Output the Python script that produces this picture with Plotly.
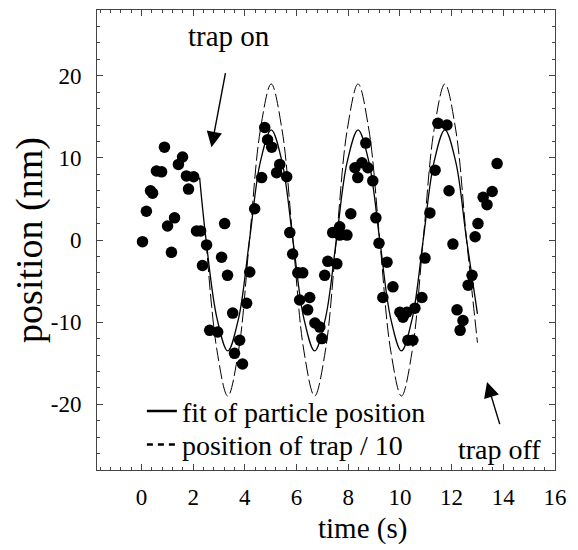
import plotly.graph_objects as go

# ---- data ----
time_s = [0.04, 0.19, 0.35, 0.43, 0.58, 0.78, 0.89, 1.01, 1.16, 1.28, 1.43, 1.59, 1.74, 1.82,
          2.02, 2.13, 2.29, 2.36, 2.52, 2.64, 2.95, 3.10, 3.22, 3.33, 3.53, 3.60, 3.80, 3.91,
          4.07, 4.19, 4.38, 4.65, 4.77, 4.88, 5.04, 5.23, 5.35, 5.62, 5.74, 5.85, 6.05, 6.24,
          6.12, 6.51, 6.43, 6.71, 6.90, 6.98, 7.09, 7.21, 7.56, 7.40, 7.67, 7.95, 7.67, 8.10,
          8.26, 8.37, 8.53, 8.68, 8.76, 8.95, 9.07, 9.19, 9.50, 9.34, 9.73, 10.00, 10.12, 10.27,
          10.31, 10.50, 10.58, 10.85, 10.97, 11.16, 11.36, 11.47, 11.82, 11.90, 12.05, 12.21,
          12.33, 12.44, 12.64, 12.79, 12.91, 13.02, 13.22, 13.37, 13.57, 13.76]
position_nm = [-0.2, 3.5, 6.0, 5.7, 8.4, 8.3, 11.3, 1.7, -1.5, 2.7, 9.2, 10.1, 7.8, 6.2,
               7.7, 1.1, 1.1, -3.1, -0.6, -11.0, -11.2, -2.1, 2.0, -4.3, -8.9, -13.8, -12.2, -15.1,
               -7.7, -3.9, 3.8, 7.6, 13.7, 12.2, 11.3, 8.2, 9.2, 7.7, 0.9, -1.7, -4.0, -4.0,
               -7.3, -7.0, -8.5, -10.1, -10.6, -12.0, -4.3, -2.6, -2.9, 0.9, 1.6, 0.6, 0.6, 3.2,
               8.8, 7.6, 9.4, 11.8, 8.8, 7.2, 2.7, -0.4, -2.7, -7.0, -5.7, -8.8, -9.4, -8.8,
               -12.2, -12.2, -8.3, -7.0, -2.2, 3.3, 8.5, 14.2, 14.0, 6.0, -0.5, -8.5,
               -11.0, -9.8, -5.5, -4.3, 0.4, 2.0, 5.2, 4.3, 5.9, 9.3]

fit_t = [2.25, 2.50, 2.92, 3.34, 3.76, 4.18, 4.60, 5.02, 5.44, 5.86, 6.28, 6.70, 7.12, 7.54,
         7.96, 8.38, 8.80, 9.22, 9.64, 10.06, 10.48, 10.90, 11.32, 11.74, 12.16, 12.58, 13.00]
fit_y = [7.6, 0.0, -9.5, -13.5, -9.5, 0.0, 9.5, 13.4, 9.5, 0.0, -9.5, -13.5, -9.5, 0.0,
         9.5, 13.4, 9.5, 0.0, -9.5, -13.5, -9.5, 0.0, 9.5, 13.4, 9.5, 0.0, -9.0]

trap_t = [2.50, 2.92, 3.34, 3.76, 4.18, 4.60, 5.02, 5.44, 5.86, 6.28, 6.70, 7.12, 7.54,
          7.96, 8.38, 8.80, 9.22, 9.64, 10.06, 10.48, 10.90, 11.32, 11.74, 12.16, 12.58, 13.00]
trap_y = [0.0, -13.4, -19.0, -13.4, 0.0, 13.4, 19.0, 13.4, 0.0, -13.4, -19.0, -13.4, 0.0,
          13.4, 19.0, 13.4, 0.0, -13.4, -19.0, -13.4, 0.0, 13.4, 19.0, 13.4, 0.0, -12.5]

x_ticks = [0, 2, 4, 6, 8, 10, 12, 14, 16]
y_ticks = [-20, -10, 0, 10, 20]

FONT = "Liberation Serif, Times New Roman, serif"

fig = go.Figure()

fig.add_trace(go.Scatter(x=trap_t, y=trap_y, mode="lines", showlegend=False,
                         line=dict(color="black", width=1, dash="14px,4px", shape="spline"),
                         hoverinfo="skip"))
fig.add_trace(go.Scatter(x=fit_t, y=fit_y, mode="lines", showlegend=False,
                         line=dict(color="black", width=1.3, shape="spline"),
                         hoverinfo="skip"))
fig.add_trace(go.Scatter(x=time_s, y=position_nm, mode="markers", showlegend=False,
                         marker=dict(color="black", size=11.5)))

# legend entries
fig.add_trace(go.Scatter(x=[None], y=[None], mode="lines", name="fit of particle position",
                         legend="legend", line=dict(color="black", width=2.5)))
fig.add_trace(go.Scatter(x=[None], y=[None], mode="lines", name="position of trap / 10",
                         legend="legend2", line=dict(color="black", width=2.5, dash="6px,5px")))

fig.add_annotation(x=3.4, y=24.8, text="trap on", showarrow=False,
                   font=dict(family=FONT, size=29, color="black"))
fig.add_annotation(x=2.71, y=11.3, ax=3.26, ay=20.5, axref="x", ayref="y", text="",
                   showarrow=True, arrowhead=2, arrowsize=2.2, arrowwidth=1.4, arrowcolor="black")
fig.add_annotation(x=13.85, y=-25.5, text="trap off", showarrow=False,
                   font=dict(family=FONT, size=28, color="black"))
fig.add_annotation(x=13.37, y=-17.3, ax=13.88, ay=-22.6, axref="x", ayref="y", text="",
                   showarrow=True, arrowhead=2, arrowsize=2.2, arrowwidth=1.4, arrowcolor="black")

# x-axis title (placed right of centre, as in the reference)
fig.add_annotation(xref="paper", yref="paper", x=0.579, y=-0.128, text="time (s)",
                   showarrow=False, xanchor="center", yanchor="middle",
                   font=dict(family=FONT, size=29, color="black"))

axis_common = dict(showgrid=False, zeroline=False, showline=True, linecolor="#444", linewidth=1,
                   mirror="ticks", ticks="inside", ticklen=6, tickcolor="#444",
                   tickfont=dict(family=FONT, size=23, color="black"))

fig.update_xaxes(range=[-1.72, 16], tickvals=x_ticks, ticktext=[str(v) for v in x_ticks],
                 minor=dict(dtick=0.4, tick0=0, ticks="inside", ticklen=3, tickcolor="#444"),
                 ticklabelstandoff=6, **axis_common)
fig.update_yaxes(range=[-28, 28], tickvals=y_ticks, ticktext=[str(v) for v in y_ticks],
                 minor=dict(dtick=2, tick0=0, ticks="inside", ticklen=3, tickcolor="#444"),
                 title=dict(text="position (nm)", font=dict(family=FONT, size=38, color="black"),
                            standoff=0),
                 ticklabelstandoff=10, **axis_common)

legend_style = dict(xanchor="left", yanchor="top", bgcolor="rgba(0,0,0,0)",
                    font=dict(family=FONT, size=28, color="black"))

fig.update_layout(
    width=570, height=542,
    margin=dict(l=89, r=23, t=2, b=80),
    paper_bgcolor="white", plot_bgcolor="white",
    font=dict(family=FONT, color="black"),
    legend=dict(x=0.098, y=0.182, **legend_style),
    legend2=dict(x=0.098, y=0.109, **legend_style),
)

fig.write_html("out.html")
